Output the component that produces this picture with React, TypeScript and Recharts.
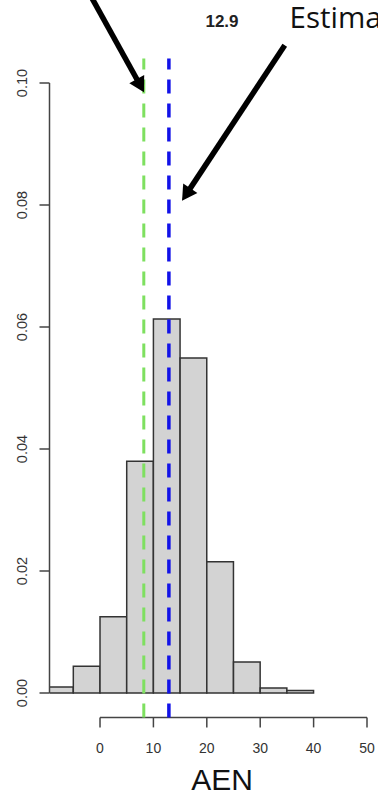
import { Bar, ComposedChart, ReferenceLine, XAxis, YAxis } from 'recharts';

// histogram bins (left edges) and densities
const binStarts = [-10, -5, 0, 5, 10, 15, 20, 25, 30, 35];
const densities = [0.001, 0.0044, 0.0125, 0.038, 0.0613, 0.0549, 0.0215, 0.0051, 0.0008, 0.0004];
const binWidth = 5;

const xTicks = [0, 10, 20, 30, 40, 50];
const yTicks = [0, 0.02, 0.04, 0.06, 0.08, 0.1];

const observedValue = 8.2;
const estimatedValue = 12.9;

// annotation arrows, tail -> tip, in data units
const arrowTails = [
  { x: -1.5, y: 0.1139 },
  { x: 34.6, y: 0.1062 },
];
const arrowTips = [
  { x: 8.24, y: 0.0985 },
  { x: 15.36, y: 0.0807 },
];

const xDomain: [number, number] = [-9.46, 52.06];
const yDomain: [number, number] = [-0.004, 0.104];

const W = 378;
const H = 794;
const plotLeft = 49.5;
const pxPerUnit = (W - plotLeft) / (xDomain[1] - xDomain[0]);

const axisColor = '#444';
const textColor = '#333';
const font = '"Liberation Sans", Arial, sans-serif';

const chartData = binStarts.map((start, i) => ({
  mid: start + binWidth / 2,
  density: densities[i],
}));

function YTick(props: any) {
  const { x, y, payload } = props;
  return (
    <text
      x={x}
      y={y}
      transform={`rotate(-90 ${x} ${y})`}
      textAnchor="middle"
      fill={textColor}
      fontSize={14.5}
      fontFamily={font}
    >
      {Number(payload.value).toFixed(2)}
    </text>
  );
}

function Arrow(props: any) {
  const { x1, y1, x2, y2 } = props;
  const dx = x2 - x1;
  const dy = y2 - y1;
  const len = Math.sqrt(dx * dx + dy * dy) || 1;
  const ux = dx / len;
  const uy = dy / len;
  const headLen = 15;
  const halfW = 8.5;
  const bx = x2 - ux * headLen;
  const by = y2 - uy * headLen;
  return (
    <g>
      <line x1={x1} y1={y1} x2={bx + ux * 2} y2={by + uy * 2} stroke="#000" strokeWidth={5.5} />
      <polygon
        points={`${x2},${y2} ${bx - uy * halfW},${by + ux * halfW} ${bx + uy * halfW},${by - ux * halfW}`}
        fill="#000"
      />
    </g>
  );
}

export default function App() {
  return (
    <div style={{ position: 'absolute', left: 0, top: 0, width: W, height: H, background: '#fff', overflow: 'hidden' }}>
      <ComposedChart
        width={W}
        height={H}
        data={chartData}
        margin={{ top: 58.6, right: 0, bottom: 0, left: 0 }}
      >
        <XAxis
          dataKey="mid"
          type="number"
          domain={xDomain}
          allowDataOverflow
          ticks={xTicks}
          interval={0}
          height={76.6}
          axisLine={false}
          tickLine={{ stroke: axisColor, strokeWidth: 1.5 }}
          tickSize={10}
          tickMargin={16}
          tick={{ fill: textColor, fontSize: 14, fontFamily: font }}
        />
        <YAxis
          type="number"
          domain={yDomain}
          allowDataOverflow
          ticks={yTicks}
          interval={0}
          width={plotLeft}
          axisLine={false}
          tickLine={{ stroke: axisColor, strokeWidth: 1.5 }}
          tickSize={10}
          tickMargin={12.5}
          tick={<YTick />}
        />
        <Bar
          dataKey="density"
          fill="#d3d3d3"
          stroke="#333"
          strokeWidth={1.5}
          barSize={binWidth * pxPerUnit - 0.05}
          isAnimationActive={false}
        />
        <ReferenceLine
          segment={[
            { x: xTicks[0], y: yDomain[0] },
            { x: xTicks[xTicks.length - 1], y: yDomain[0] },
          ]}
          stroke={axisColor}
          strokeWidth={1.5}
          ifOverflow="visible"
        />
        <ReferenceLine
          segment={[
            { x: xDomain[0], y: yTicks[0] },
            { x: xDomain[0], y: yTicks[yTicks.length - 1] },
          ]}
          stroke={axisColor}
          strokeWidth={1.5}
          ifOverflow="visible"
        />
        <ReferenceLine x={observedValue} stroke="#7ee060" strokeWidth={3} strokeDasharray="14 10" />
        <ReferenceLine x={estimatedValue} stroke="#1212e8" strokeWidth={3.5} strokeDasharray="14 10" />
        {arrowTails.map((tail, i) => (
          <ReferenceLine
            key={i}
            segment={[tail, arrowTips[i]]}
            ifOverflow="visible"
            shape={<Arrow />}
          />
        ))}
      </ComposedChart>
      <svg
        width={W}
        height={H}
        style={{ position: 'absolute', left: 0, top: 0, pointerEvents: 'none' }}
      >
        <text x={222} y={27} textAnchor="middle" fontSize={17} fontWeight="bold" fontFamily={font} fill="#222">
          {estimatedValue}
        </text>
        <text x={289.5} y={28.3} fontSize={29.5} fontFamily='"Open Sans", sans-serif' fill="#111">
          Estimated
        </text>
        <text x={222} y={789.5} textAnchor="middle" fontSize={30} fontFamily={font} fill="#111">
          AEN
        </text>
      </svg>
    </div>
  );
}
